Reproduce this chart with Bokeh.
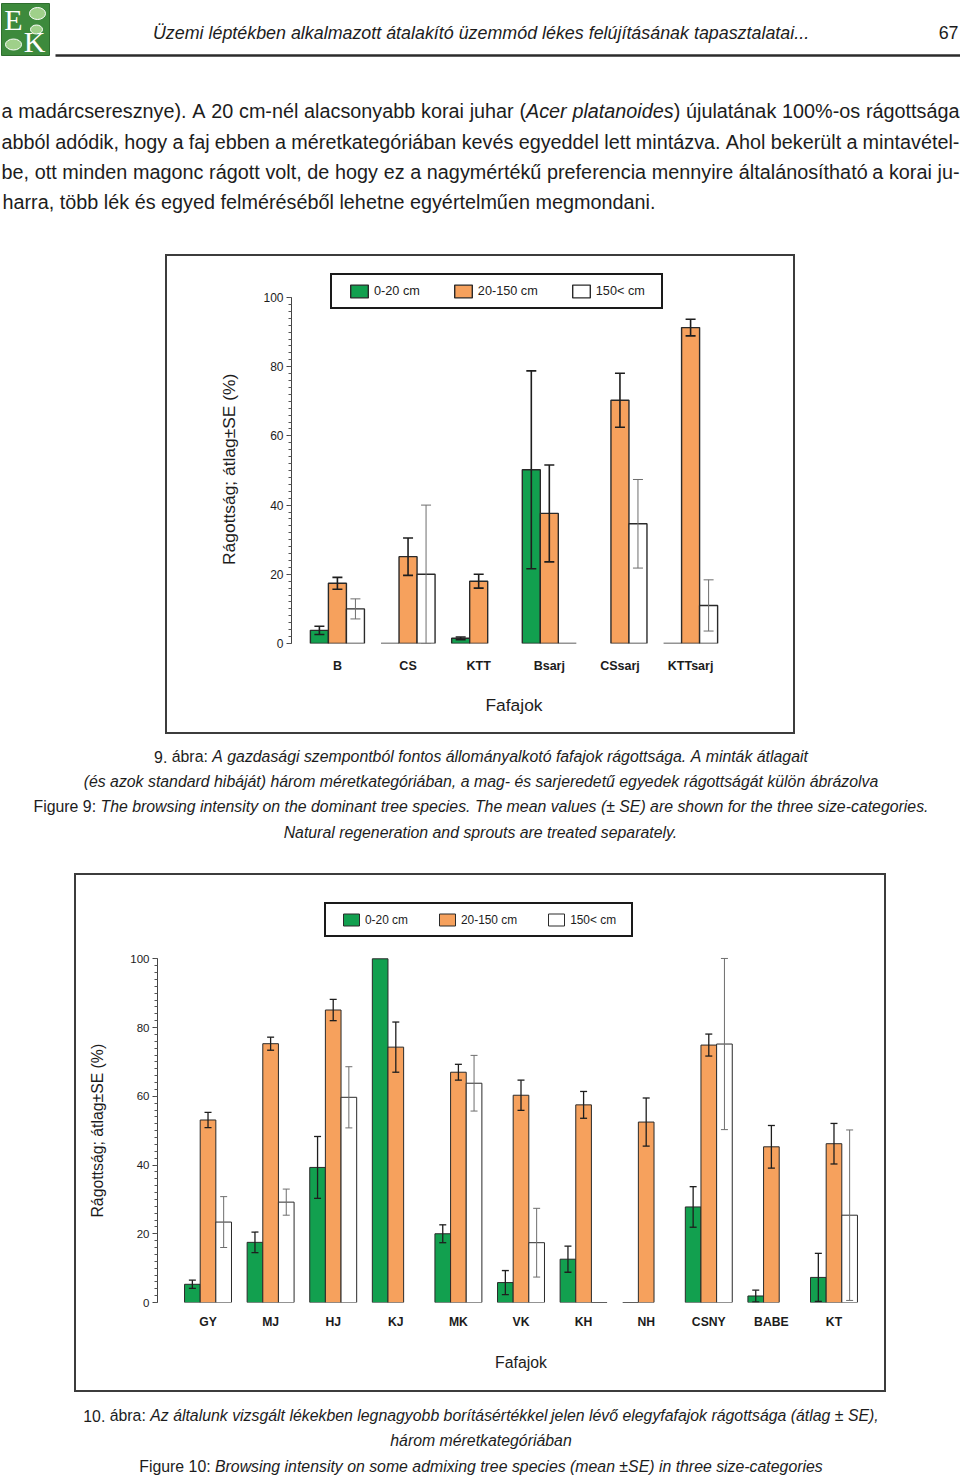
import math
import unicodedata
from bokeh.plotting import figure
from bokeh.models import (ColumnDataSource, FactorRange, Range1d, Whisker, TeeHead,
                          Legend, LegendItem, SingleIntervalTicker, Spacer)
from bokeh.layouts import column, row
from bokeh.transform import dodge
from bokeh.core.properties import value
from bokeh.embed import file_html
from bokeh.resources import INLINE

NAN = float("nan")

# ---------------- data: figure 9 ----------------
species9 = ["B", "CS", "KTT", "Bsarj", "CSsarj", "KTTsarj"]
small9 = [3.8, 0.0, 1.5, 50.2, NAN, 0.0]
small9_se = [1.2, NAN, 0.4, 28.6, NAN, NAN]
mid9 = [17.4, 25.1, 18.0, 37.6, 70.3, 91.3]
mid9_se = [1.7, 5.4, 2.0, 14.0, 7.8, 2.4]
tall9 = [10.0, 20.0, NAN, 0.0, 34.6, 11.0]
tall9_se = [2.9, 20.0, NAN, NAN, 12.8, 7.4]

# ---------------- data: figure 10 ----------------
species10 = ["GY", "MJ", "HJ", "KJ", "MK", "VK", "KH", "NH", "CSNY", "BABE", "KT"]
small10 = [5.3, 17.5, 39.3, 100.0, 20.0, 5.8, 12.6, 0.0, 27.8, 1.9, 7.3]
small10_se = [1.2, 3.0, 9.0, NAN, 2.6, 3.5, 3.8, NAN, 5.9, 1.7, 7.0]
mid10 = [53.1, 75.3, 85.1, 74.3, 67.0, 60.3, 57.5, 52.5, 74.9, 45.3, 46.2]
mid10_se = [2.2, 1.9, 3.1, 7.3, 2.3, 4.4, 3.9, 7.0, 3.2, 6.2, 5.9]
tall10 = [23.4, 29.2, 59.7, NAN, 63.8, 17.4, 0.0, NAN, 75.2, NAN, 25.4]
tall10_se = [7.4, 3.8, 8.9, NAN, 8.1, 10.0, NAN, NAN, 24.9, NAN, 24.8]

size_labels = ["0-20 cm", "20-150 cm", "150< cm"]
y_label = "Rágottság; átlag±SE (%)"
x_label = "Fafajok"
y_max = 100

# ---------------- texts ----------------
header_text = "Üzemi léptékben alkalmazott átalakító üzemmód lékes felújításának tapasztalatai..."
page_number = "67"
paragraph = [
    "a madárcseresznye). A 20 cm-nél alacsonyabb korai juhar (_Acer platanoides_) újulatának 100%-os rágottsága",
    "abból adódik, hogy a faj ebben a méretkategóriában kevés egyeddel lett mintázva. Ahol bekerült a mintavétel-",
    "be, ott minden magonc rágott volt, de hogy ez a nagymértékű preferencia mennyire általánosítható a korai ju-",
    "harra, több lék és egyed felméréséből lehetne egyértelműen megmondani.",
]
caption9 = [
    "9. ábra: _A gazdasági szempontból fontos állományalkotó fafajok rágottsága. A minták átlagait_",
    "_(és azok standard hibáját) három méretkategóriában, a mag- és sarjeredetű egyedek rágottságát külön ábrázolva_",
    "Figure 9: _The browsing intensity on the dominant tree species. The mean values (± SE) are shown for the three size-categories._",
    "_Natural regeneration and sprouts are treated separately._",
]
caption10 = [
    "10. ábra: _Az általunk vizsgált lékekben legnagyobb borításértékkel jelen lévő elegyfafajok rágottsága (átlag ± SE),_",
    "_három méretkategóriában_",
    "Figure 10: _Browsing intensity on some admixing tree species (mean ±SE) in three size-categories_",
]

FONT = "'Liberation Sans', Arial, sans-serif"
TXT = "#1c1c1c"
GREEN = "#12a04f"
ORANGE = "#f6a15d"
WHITE = "#ffffff"
PAGE_W = 960

# Arial / Liberation Sans advance widths (1/1000 em)
HW = {" ": 278, "\u00a0": 278, "!": 278, "%": 889, "(": 333, ")": 333, "+": 584, ",": 278,
      "-": 333, ".": 278, "/": 278, ":": 278, ";": 278, "<": 584, "±": 549,
      "A": 667, "B": 667, "C": 722, "D": 722, "E": 667, "F": 611, "G": 778, "H": 722,
      "I": 278, "J": 500, "K": 667, "L": 556, "M": 833, "N": 722, "O": 778, "P": 667,
      "Q": 778, "R": 722, "S": 667, "T": 611, "U": 722, "V": 667, "W": 944, "X": 667,
      "Y": 667, "Z": 611, "a": 556, "b": 556, "c": 500, "d": 556, "e": 556, "f": 278,
      "g": 556, "h": 556, "i": 222, "j": 222, "k": 500, "l": 222, "m": 833, "n": 556,
      "o": 556, "p": 556, "q": 556, "r": 333, "s": 500, "t": 278, "u": 556, "v": 500,
      "w": 722, "x": 500, "y": 500, "z": 500}


def cw(ch):
    base = unicodedata.normalize("NFD", ch)[0]
    return HW.get(base, 556)


def tw(s, fs):
    return sum(cw(c) for c in s) / 1000.0 * fs


def plain(line):
    return line.replace("_", "")


def parse(line):
    words, it = [], False
    for w in line.split(" "):
        segs = []
        for j, part in enumerate(w.split("_")):
            if j > 0:
                it = not it
            if part:
                segs.append((part, it))
        words.append(segs)
    return words


def layout_line(line, fs, y, x0=None, x1=None, center=None):
    words = parse(line)
    widths = [sum(tw(s, fs) for s, _ in w) for w in words]
    space = tw(" ", fs)
    if x0 is not None and x1 is not None:
        gap = (x1 - x0 - sum(widths)) / max(1, len(words) - 1)
        x = x0
    elif center is not None:
        gap = space
        x = center - (sum(widths) + space * (len(words) - 1)) / 2.0
    else:
        gap = space
        x = x0
    out = []
    for w, wd in zip(words, widths):
        xs = x
        for s, it in w:
            out.append((xs, y, s, it))
            xs += tw(s, fs)
        x += wd + gap
    return out


def draw_segments(f, segs, fs):
    for it in (False, True):
        sel = [s for s in segs if s[3] == it]
        if not sel:
            continue
        src = ColumnDataSource(dict(x=[s[0] for s in sel], y=[s[1] for s in sel],
                                    t=[s[2] for s in sel]))
        f.text(x="x", y="y", text="t", source=src, text_font=value(FONT),
               text_font_size=value(f"{fs:.2f}px"),
               text_font_style="italic" if it else "normal",
               text_baseline="middle", text_align="left", text_color=TXT)


def text_fig(h):
    f = figure(width=PAGE_W, height=h, x_range=Range1d(0, PAGE_W), y_range=Range1d(h, 0),
               x_axis_type=None, y_axis_type=None, toolbar_location=None,
               output_backend="svg", min_border=0, outline_line_color=None,
               background_fill_color="white", border_fill_color="white")
    f.grid.visible = False
    return f


# ---------------- top part (header + paragraph) ----------------
top = text_fig(254)
# logo
top.quad(left=[1], right=[49], top=[3], bottom=[55], fill_color="#3d8a3c", line_color="#2e6e2e")
top.ellipse(x=[37, 36, 13], y=[13, 29, 44], width=[16, 12, 16], height=[12, 9, 11],
            fill_color="#9fd08a", line_color="white", line_width=1)
top.text(x=[13, 34], y=[19, 41], text=["E", "K"], text_font=value("Liberation Serif"),
         text_font_size=value("30px"), text_color="white", text_align="center",
         text_baseline="middle")
# header
header_fs = 655.0 / tw(header_text, 1.0)
top.text(x=[480.5], y=[32], text=[header_text], text_font=value(FONT),
         text_font_size=value(f"{header_fs:.2f}px"), text_font_style="italic",
         text_align="center", text_baseline="middle", text_color=TXT)
top.text(x=[958], y=[32], text=[page_number], text_font=value(FONT),
         text_font_size=value(f"{header_fs:.2f}px"), text_align="right",
         text_baseline="middle", text_color=TXT)
top.line(x=[55, 960], y=[55, 55], line_color="#2b2b2b", line_width=2.5)
# paragraph
body_fs = 653.0 / tw(plain(paragraph[-1]), 1.0)
segs = []
for i, (line, y) in enumerate(zip(paragraph, [110, 141, 171, 201])):
    if i < len(paragraph) - 1:
        segs += layout_line(line, body_fs, y, x0=1, x1=959)
    else:
        segs += layout_line(line, body_fs, y, x0=2)
draw_segments(top, segs, body_fs)

# ---------------- captions ----------------
cap_fs = 895.0 / tw(plain(caption9[2]), 1.0)
cap9 = text_fig(139)
segs = []
for line, y in zip(caption9, [22, 47, 72, 98]):
    segs += layout_line(line, cap_fs, y, center=480.5)
draw_segments(cap9, segs, cap_fs)

cap10 = text_fig(87)
segs = []
for line, y in zip(caption10, [23, 48, 74]):
    segs += layout_line(line, cap_fs, y, center=480.5)
draw_segments(cap10, segs, cap_fs)


# ---------------- charts ----------------
def make_chart(cats, series, ses, *, w, h, left, right, y100_px, y0_px, pad, bar_w,
               tick_fs, cat_fs, lab_fs, bar_lw, err_lw, head, cat_standoff,
               xlab_standoff, ylab_standoff, legend_xy, leg_fs, glyph_w, glyph_h,
               leg_pad, leg_spacing):
    # frame spans canvas top .. y0_px; value y_max sits at y100_px
    px_per_unit = (y0_px - y100_px) / y_max
    y_end = y_max + y100_px / px_per_unit
    p = figure(width=w, height=h, toolbar_location=None, output_backend="svg",
               x_range=FactorRange(factors=cats, range_padding=pad,
                                   range_padding_units="absolute"),
               y_range=Range1d(0, y_end),
               min_border_left=left, min_border_right=right,
               min_border_top=0, min_border_bottom=h - y0_px,
               outline_line_color=None, background_fill_color="white",
               border_fill_color="white")
    p.styles = {"border": "2px solid #3c3c3c"}
    p.xgrid.visible = False
    p.ygrid.visible = False

    # the axis label is centred on the whole frame; pad its end so that the
    # visible words are centred on the 0..100 part of the axis
    shift = (y0_px + y100_px) / 2.0 - y0_px / 2.0
    n_pad = int(round(2 * shift / (0.278 * lab_fs)))

    ya = p.yaxis[0]
    ya.bounds = (0, y_max)
    ya.ticker = SingleIntervalTicker(interval=20, num_minor_ticks=10)
    ya.axis_line_color = "#444444"
    ya.major_tick_line_color = "#444444"
    ya.minor_tick_line_color = "#555555"
    ya.major_tick_out = 5
    ya.major_tick_in = 0
    ya.minor_tick_out = 3
    ya.minor_tick_in = 0
    ya.major_label_standoff = 3
    ya.major_label_text_font = FONT
    ya.major_label_text_font_size = f"{tick_fs}px"
    ya.major_label_text_color = TXT
    ya.axis_label = y_label + "\u00a0" * n_pad
    ya.axis_label_text_font = FONT
    ya.axis_label_text_font_style = "normal"
    ya.axis_label_text_font_size = f"{lab_fs}px"
    ya.axis_label_text_color = TXT
    ya.axis_label_standoff = ylab_standoff

    xa = p.xaxis[0]
    xa.axis_line_color = None
    xa.major_tick_line_color = None
    xa.minor_tick_line_color = None
    xa.major_tick_out = 0
    xa.major_label_standoff = cat_standoff
    xa.major_label_text_font = FONT
    xa.major_label_text_font_style = "bold"
    xa.major_label_text_font_size = f"{cat_fs}px"
    xa.major_label_text_color = TXT
    xa.axis_label = x_label
    xa.axis_label_text_font = FONT
    xa.axis_label_text_font_style = "normal"
    xa.axis_label_text_font_size = f"{lab_fs}px"
    xa.axis_label_text_color = TXT
    xa.axis_label_standoff = xlab_standoff

    colors = [GREEN, ORANGE, WHITE]
    offsets = [-bar_w, 0.0, bar_w]
    renderers = []
    for vals, se, color, off in zip(series, ses, colors, offsets):
        idx = [i for i, v in enumerate(vals) if not math.isnan(v)]
        src = ColumnDataSource(dict(cat=[cats[i] for i in idx], top=[vals[i] for i in idx]))
        r = p.vbar(x=dodge("cat", off, range=p.x_range), top="top", bottom=0, width=bar_w,
                   source=src, fill_color=color, line_color="#2a2a2a", line_width=bar_lw)
        renderers.append(r)
        eidx = [i for i in idx if not math.isnan(se[i])]
        esrc = ColumnDataSource(dict(cat=[cats[i] for i in eidx],
                                     upper=[vals[i] + se[i] for i in eidx],
                                     lower=[max(0.0, vals[i] - se[i]) for i in eidx]))
        ec = "#6e6e6e" if color == WHITE else "#1e1e1e"
        elw = 1.0 if color == WHITE else err_lw
        wk = Whisker(base=dodge("cat", off, range=p.x_range), upper="upper", lower="lower",
                     source=esrc, line_color=ec, line_width=elw, level="overlay",
                     upper_head=TeeHead(size=head, line_color=ec, line_width=elw),
                     lower_head=TeeHead(size=head, line_color=ec, line_width=elw))
        p.add_layout(wk)

    legend = Legend(items=[LegendItem(label=l, renderers=[r]) for l, r in zip(size_labels, renderers)],
                    orientation="horizontal", location=legend_xy,
                    label_text_font=FONT, label_text_font_size=f"{leg_fs}px",
                    label_text_color=TXT, glyph_width=glyph_w, glyph_height=glyph_h,
                    label_height=glyph_h, label_standoff=4, spacing=leg_spacing,
                    padding=leg_pad, margin=0, border_line_color="#1a1a1a",
                    border_line_width=2, border_line_alpha=1.0,
                    background_fill_color="white", background_fill_alpha=1.0)
    p.add_layout(legend, "center")
    return p


chart9 = make_chart(species9, [small9, mid9, tall9], [small9_se, mid9_se, tall9_se],
                    w=630, h=480, left=124, right=61, y100_px=41, y0_px=387, pad=0.15,
                    bar_w=0.255, tick_fs=12, cat_fs=12.5, lab_fs=17.4, bar_lw=1.4, err_lw=1.6,
                    head=10, cat_standoff=15, xlab_standoff=19, ylab_standoff=21,
                    legend_xy=(39, 334), leg_fs=12.7, glyph_w=22, glyph_h=16,
                    leg_pad=(16, 8), leg_spacing=32)

chart10 = make_chart(species10, [small10, mid10, tall10], [small10_se, mid10_se, tall10_se],
                     w=812, h=519, left=81, right=4, y100_px=83.3, y0_px=427, pad=0.307,
                     bar_w=0.25, tick_fs=11.5, cat_fs=12.2, lab_fs=15.8, bar_lw=1.0, err_lw=1.3,
                     head=7, cat_standoff=12, xlab_standoff=22, ylab_standoff=21,
                     legend_xy=(167, 365), leg_fs=11.9, glyph_w=20, glyph_h=15,
                     leg_pad=(15, 8), leg_spacing=29)

page = column(
    top,
    row(Spacer(width=165, height=480), chart9),
    cap9,
    row(Spacer(width=74, height=519), chart10),
    cap10,
    spacing=0,
)

open("out.html", "w").write(file_html(page, INLINE))
